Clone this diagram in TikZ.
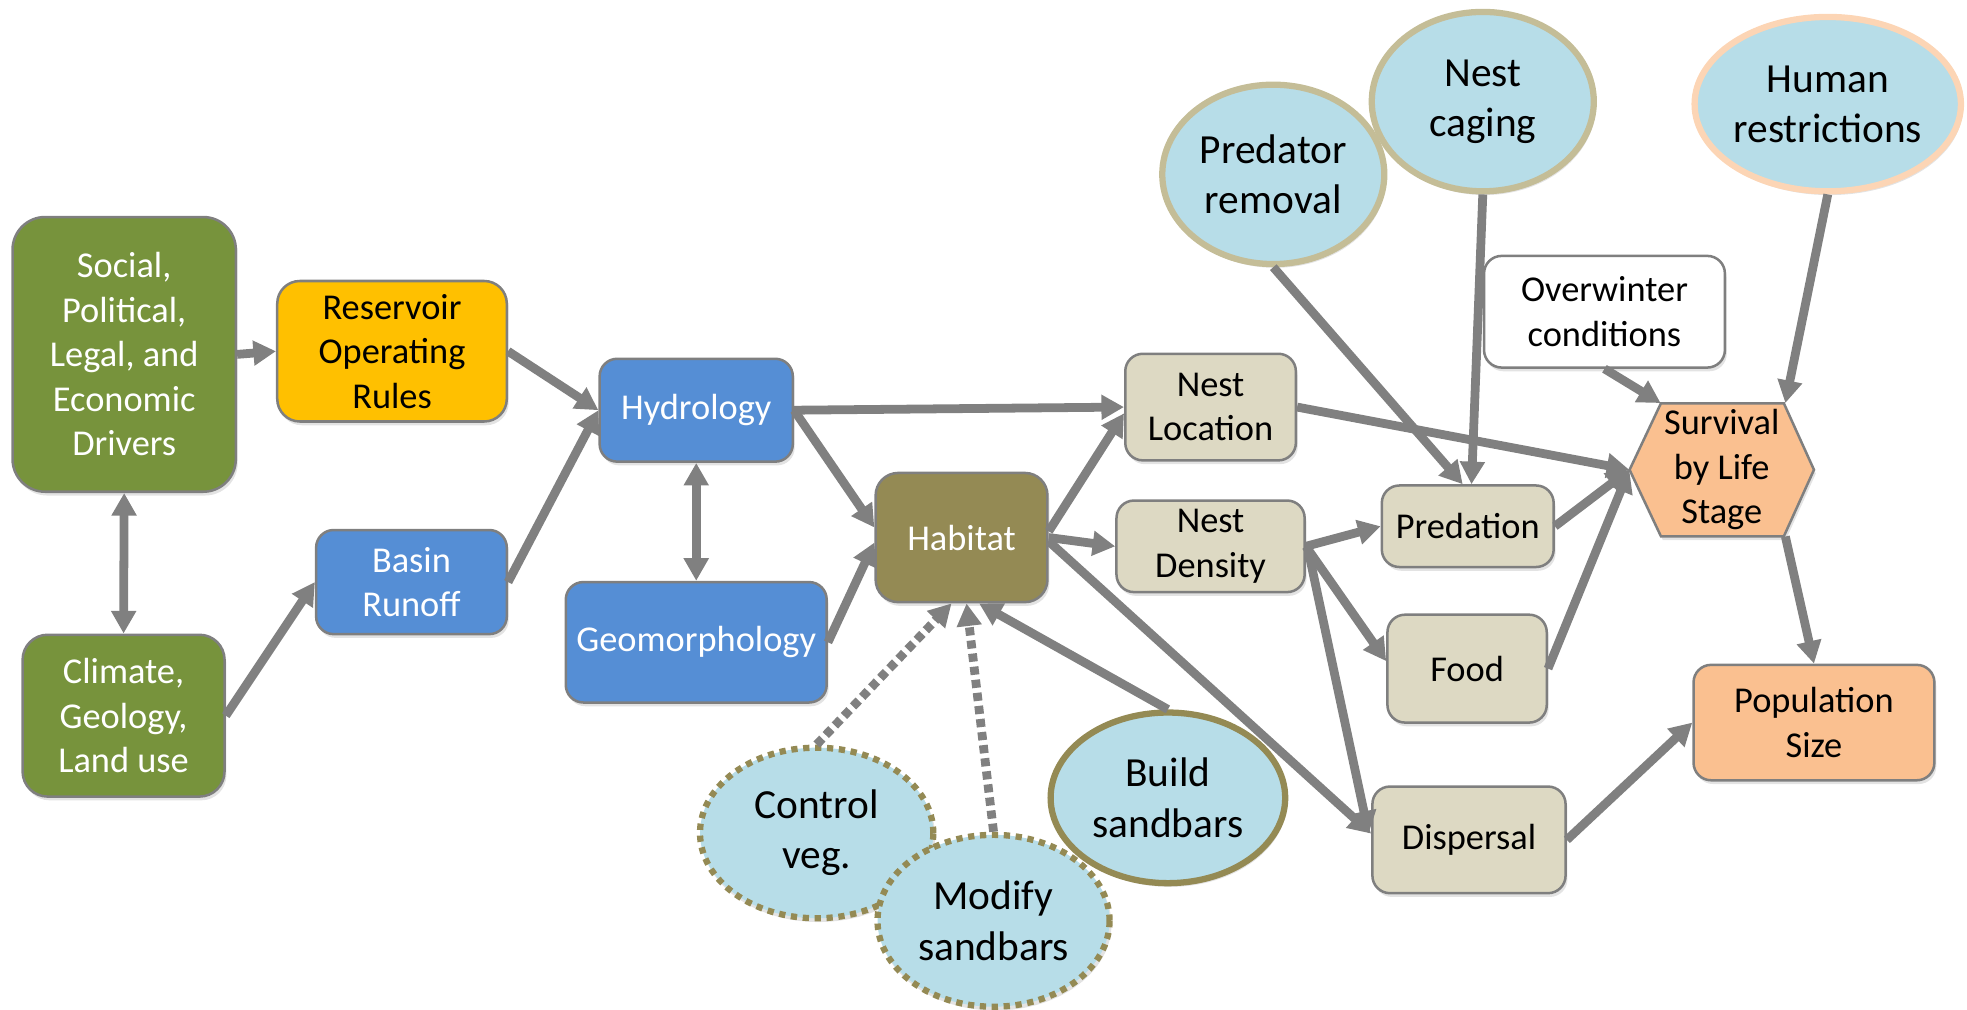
\documentclass[tikz,border=0pt]{standalone}
\usepackage{fontspec}
\setmainfont{Carlito}
\usetikzlibrary{arrows.meta,shapes.geometric,shadows,calc}

\definecolor{drvgreen}{HTML}{77933C}
\definecolor{resgold}{HTML}{FFC000}
\definecolor{hydblue}{HTML}{558ED5}
\definecolor{habolive}{HTML}{948A54}
\definecolor{tanfill}{HTML}{DDD9C3}
\definecolor{peach}{HTML}{FAC090}
\definecolor{mgmtblue}{HTML}{B7DDE8}
\definecolor{tanline}{HTML}{C4BD97}
\definecolor{peachline}{HTML}{FCD5B5}
\definecolor{boxline}{HTML}{7F7F7F}
\definecolor{arrowgrey}{HTML}{808080}

\newcommand{\boxfont}{\fontsize{29}{35.5}\selectfont}
\newcommand{\ovalfont}{\fontsize{33}{40}\selectfont}

\tikzset{
  softshadow/.style={drop shadow={opacity=0.22, shadow xshift=1.5pt, shadow yshift=-3pt}},
  box/.style={draw=boxline, line width=2pt, rounded corners=14pt, align=center,
              inner sep=0pt, font=\boxfont, softshadow},
  darkbox/.style={box, text=white},
  oval/.style={ellipse, line width=5pt, fill=mgmtblue, align=center, inner sep=0pt,
               font=\ovalfont, softshadow},
  dotoval/.style={oval, draw=habolive, line width=5pt, dash pattern=on 5pt off 4.5pt},
  tip/.tip={Triangle[length=18pt,width=19pt]},
  arr/.style={draw=arrowgrey, line width=7pt, -tip},
  darr/.style={draw=arrowgrey, line width=7pt, tip-tip},
  dotarr/.style={draw=arrowgrey, line width=7pt, dash pattern=on 6.5pt off 4pt, -tip},
}

\begin{document}
\begin{tikzpicture}[x=1pt,y=-1pt]
\useasboundingbox (0,0) rectangle (1568,805);

% drivers and physical system
\node[darkbox, fill=drvgreen, rounded corners=26pt, minimum width=178pt, minimum height=219pt]
  (soc) at (99,282.5) {Social,\\Political,\\Legal, and\\Economic\\Drivers};
\node[darkbox, fill=drvgreen, rounded corners=20pt, minimum width=161pt, minimum height=129pt]
  (clim) at (98.5,570.5) {Climate,\\Geology,\\Land use};
\node[box, fill=resgold, rounded corners=18pt, minimum width=183pt, minimum height=112pt]
  (res) at (312.5,280) {Reservoir\\Operating\\Rules};
\node[darkbox, fill=hydblue, minimum width=152pt, minimum height=83pt]
  (basin) at (328,464) {Basin\\Runoff};
\node[darkbox, fill=hydblue, minimum width=154pt, minimum height=82pt]
  (hyd) at (555,327) {Hydrology};
\node[darkbox, fill=hydblue, minimum width=208pt, minimum height=96pt]
  (geo) at (555,512) {Geomorphology};
\node[darkbox, fill=habolive, rounded corners=18pt, minimum width=137pt, minimum height=103pt]
  (hab) at (766.5,428.5) {Habitat};

% biological responses
\node[box, fill=tanfill, minimum width=136pt, minimum height=85pt]
  (nloc) at (965,324.5) {Nest\\Location};
\node[box, fill=tanfill, minimum width=150pt, minimum height=73pt]
  (nden) at (965,435.5) {Nest\\Density};
\node[box, fill=tanfill, minimum width=137pt, minimum height=65pt]
  (pred) at (1170,419.5) {Predation};
\node[box, fill=tanfill, minimum width=127pt, minimum height=86pt]
  (food) at (1169.5,533) {Food};
\node[box, fill=tanfill, minimum width=154pt, minimum height=85pt]
  (disp) at (1171,669.5) {Dispersal};
\node[box, fill=white, minimum width=192pt, minimum height=89pt]
  (over) at (1279,248.5) {Overwinter\\conditions};

% survival hexagon
\coordinate (sc) at (1372.5,374.5);
\filldraw[draw=boxline, line width=2pt, fill=peach, softshadow]
  ($(sc)+(-73.5,0)$) -- ($(sc)+(-48.5,-53)$) -- ($(sc)+(49.5,-53)$)
  -- ($(sc)+(73.5,0)$) -- ($(sc)+(49.5,53)$) -- ($(sc)+(-48.5,53)$) -- cycle;
\node[align=center, inner sep=0pt, font=\boxfont, minimum width=147pt, minimum height=106pt]
  (surv) at (sc) {Survival\\by Life\\Stage};
\node[box, fill=peach, minimum width=192pt, minimum height=92pt]
  (pop) at (1446,576) {Population\\Size};

% management actions
\node[oval, draw=tanline, minimum width=177pt, minimum height=143pt]
  (predrem) at (1015,139) {Predator\\removal};
\node[oval, draw=tanline, minimum width=177pt, minimum height=143pt]
  (cage) at (1182,81) {Nest\\caging};
\node[oval, draw=peachline, minimum width=212pt, minimum height=139pt]
  (human) at (1457,83) {Human\\restrictions};
\node[oval, draw=habolive, line width=5pt, minimum width=187pt, minimum height=136pt]
  (build) at (931,636) {Build\\sandbars};
\node[dotoval, minimum width=186pt, minimum height=136pt]
  (ctrl) at (651,664) {Control\\veg.};
\node[dotoval, minimum width=185pt, minimum height=137pt]
  (mod) at (792,734) {Modify\\sandbars};

% connectors
\draw[arr] (soc.east) -- (res.west);
\draw[darr] (soc.south) -- (clim.north);
\draw[arr] (clim.east) -- (basin.west);
\draw[arr] (res.east) -- (hyd.west);
\draw[arr] (basin.east) -- (hyd.west);
\draw[darr] (hyd.south) -- (geo.north);
\draw[arr] (hyd.east) -- (nloc.west);
\draw[arr] (hyd.east) -- ($(hab.west)+(0,-8)$);
\draw[arr] (geo.east) -- ($(hab.west)+(0,4)$);
\draw[arr] ($(hab.east)+(0,-5)$) -- ($(nloc.west)+(0,5)$);
\draw[arr] (hab.east) -- (nden.west);
\draw[arr] ($(hab.east)+(0,3)$) -- ($(disp.west)+(0,-5)$);
\draw[arr] (build.north) -- ($(hab.south)+(14,0)$);
\draw[dotarr] (ctrl.north) -- ($(hab.south)+(-8,0)$);
\draw[dotarr] (mod.north) -- ($(hab.south)+(4,0)$);
\draw[arr] (nloc.east) -- (surv.west);
\draw[arr] (nden.east) -- (pred.west);
\draw[arr] (nden.east) -- ($(food.west)+(0,-6)$);
\draw[arr] ($(nden.east)+(2,4)$) -- ($(disp.west)+(-2,-5)$);
\draw[arr] (pred.east) -- (surv.west);
\draw[arr] (food.east) -- (surv.west);
\draw[arr] (predrem.south) -- ($(pred.north)+(-4,0)$);
\draw[arr] (cage.south) -- ($(pred.north)+(3,0)$);
\draw[arr] (over.south) -- ($(surv.north west)+(25,0)$);
\draw[arr] (human.south) -- ($(surv.north east)+(-23,0)$);
\draw[arr] ($(surv.south east)+(-23,0)$) -- (pop.north);
\draw[arr] (disp.east) -- (pop.west);
\end{tikzpicture}
\end{document}
